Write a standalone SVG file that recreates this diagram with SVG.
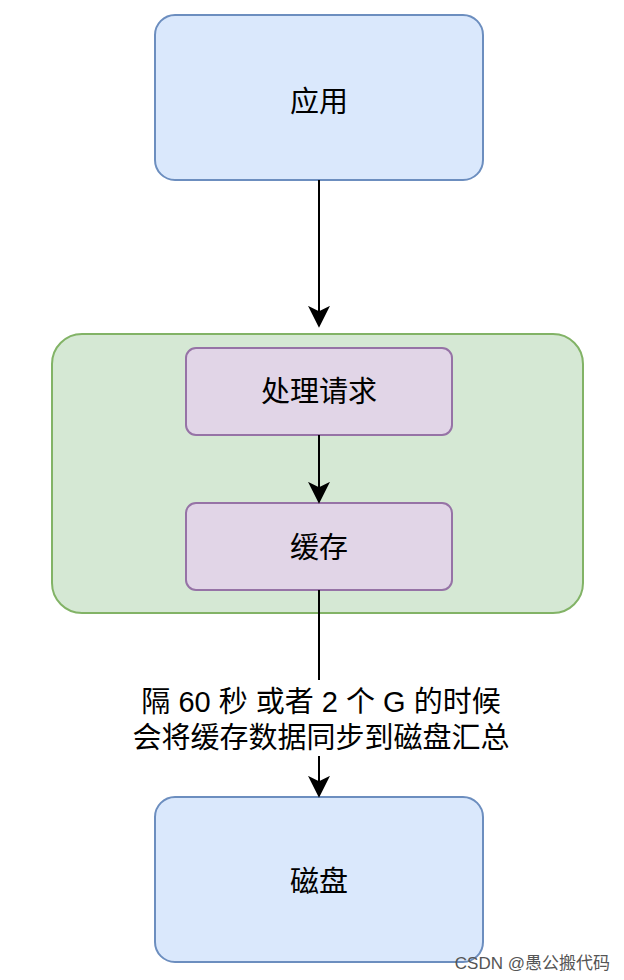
<svg xmlns="http://www.w3.org/2000/svg" width="624" height="980" viewBox="0 0 624 980">
<style>
.t{font-family:"Liberation Sans","Noto Sans CJK SC",sans-serif;font-size:29px;fill:#000;text-anchor:middle}
.blue{fill:#dae8fc;stroke:#6c8ebf;stroke-width:2}
.pur{fill:#e1d5e7;stroke:#9673a6;stroke-width:2}
.ln{stroke:#000;stroke-width:2;fill:none}
</style>
<defs><marker id="b" viewBox="0 0 12 12" refX="11" refY="6" markerWidth="22" markerHeight="22" markerUnits="userSpaceOnUse" orient="auto"><path d="M0,0 L12,6 L0,12 L3,6 Z" fill="#000"/></marker></defs>
<rect width="624" height="980" fill="#fff"/>
<g id="container"><rect x="52" y="334" width="531" height="279" rx="30" fill="#d5e8d4" stroke="#82b366" stroke-width="2"/></g>
<g id="app"><rect class="blue" x="155" y="15" width="328" height="165" rx="20"/><text class="t" x="319" y="112">应用</text></g>
<g id="process"><rect class="pur" x="186" y="348" width="266" height="87" rx="10"/><text class="t" x="319" y="402">处理请求</text></g>
<g id="cache"><rect class="pur" x="186" y="503" width="266" height="87" rx="10"/><text class="t" x="319" y="558">缓存</text></g>
<g id="disk"><rect class="blue" x="155" y="797" width="328" height="165" rx="20"/><text class="t" x="319" y="892">磁盘</text></g>
<g id="connectors">
<line class="ln" x1="319" y1="180" x2="319" y2="326" marker-end="url(#b)"/>
<line class="ln" x1="319" y1="435" x2="319" y2="502" marker-end="url(#b)"/>
<line class="ln" x1="319" y1="590" x2="319" y2="796" marker-end="url(#b)"/>
<rect x="115" y="680" width="410" height="76" fill="#fff"/>
<text class="t" x="321" y="712">隔 60 秒 或者 2 个 G 的时候</text>
<text class="t" x="321" y="748">会将缓存数据同步到磁盘汇总</text>
</g>
<text x="610" y="969" font-family="Liberation Sans,Noto Sans CJK SC,sans-serif" font-size="17" fill="#555" text-anchor="end">CSDN @愚公搬代码</text>
</svg>
